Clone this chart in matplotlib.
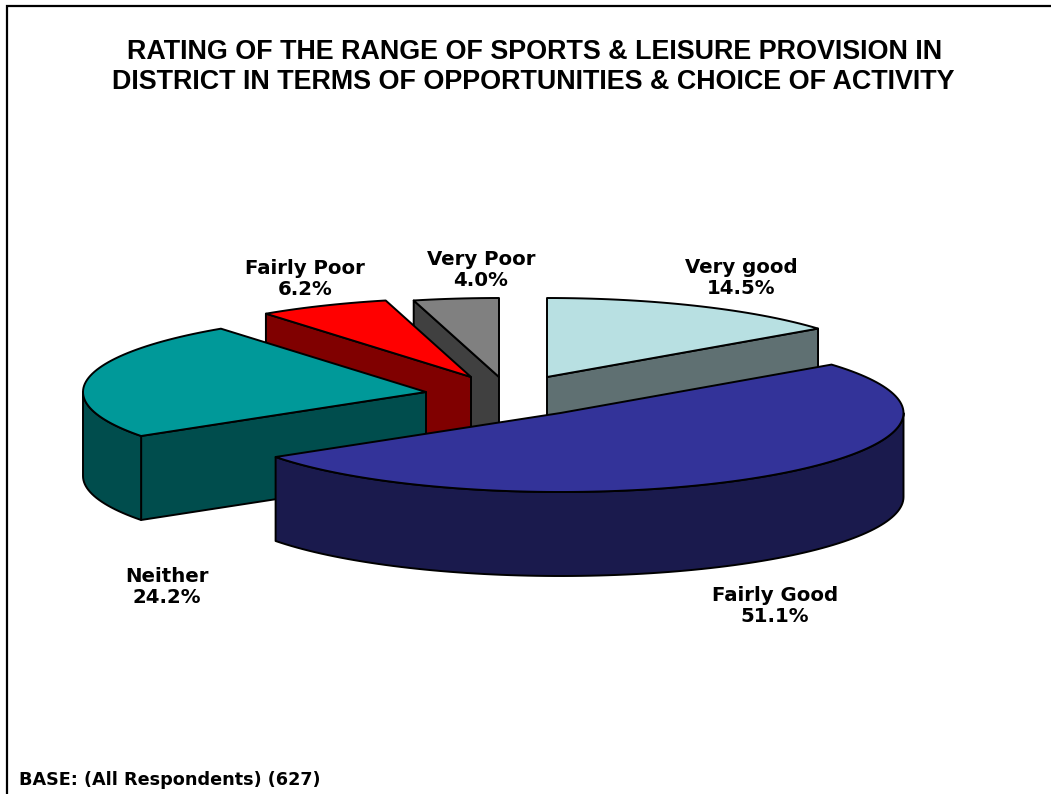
import numpy as np
import matplotlib
matplotlib.use("Agg")
import matplotlib.pyplot as plt
from matplotlib.patches import Polygon

# Data
categories = ["Very good", "Fairly Good", "Neither", "Fairly Poor", "Very Poor"]
values = [14.5, 51.1, 24.2, 6.2, 4.0]
title_lines = ["RATING OF THE RANGE OF SPORTS & LEISURE PROVISION IN",
               "DISTRICT IN TERMS OF OPPORTUNITIES & CHOICE OF ACTIVITY"]
base_note = "BASE: (All Respondents) (627)"

# Style / layout (pixel canvas, y downward)
W, H = 1051, 794
RX, RY, DEPTH = 343, 79, 84
apexes = [(547, 377), (560.5, 413), (426, 392), (471, 377), (499, 377)]
top_colors = ["#B8E0E2", "#333399", "#009999", "#FF0000", "#808080"]
side_colors = ["#5F7072", "#1A1A4D", "#004D4D", "#800000", "#404040"]
label_pos = [(741, 278), (775, 606), (167, 587), (305, 279), (481, 270)]
draw_order = [4, 3, 2, 0, 1]

fig = plt.figure(figsize=(W / 100, H / 100), dpi=100, facecolor="white")
ax = fig.add_axes([0, 0, 1, 1])
ax.set_xlim(0, W)
ax.set_ylim(H, 0)
ax.axis("off")

ax.plot([6.5, 6.5, W], [H, 5.5, 5.5], color="black", lw=1.6, solid_joinstyle="miter", zorder=1)


def rim(cx, cy, a0, a1, dy=0):
    n = max(2, int(abs(a1 - a0) / 1.5) + 2)
    t = np.radians(np.linspace(a0, a1, n))
    return np.column_stack([cx + RX * np.sin(t), cy + dy - RY * np.cos(t)])


edges = np.concatenate([[0], np.cumsum(values) / np.sum(values) * 360])
z = 2
for i in draw_order:
    cx, cy = apexes[i]
    a0, a1 = edges[i], edges[i + 1]
    # Cut face turned to the viewer: end edge on the right half, start edge on the left half
    if a1 <= 180:
        edge = a1
    elif a0 >= 180:
        edge = a0
    else:
        edge = None
    if edge is not None:
        p = rim(cx, cy, edge, edge)[0]
        face = [(cx, cy), tuple(p), (p[0], p[1] + DEPTH), (cx, cy + DEPTH)]
        ax.add_patch(Polygon(face, closed=True, fc=side_colors[i], ec="black", lw=1.4,
                             joinstyle="round", zorder=z))
    # Outer wall where it faces the viewer
    v0, v1 = max(a0, 90), min(a1, 270)
    if v1 > v0:
        top = rim(cx, cy, v0, v1)
        bot = rim(cx, cy, v0, v1, DEPTH)
        ax.add_patch(Polygon(np.vstack([top, bot[::-1]]), closed=True, fc=side_colors[i],
                             ec="black", lw=1.4, joinstyle="round", zorder=z))
    arc = rim(cx, cy, a0, a1)
    ax.add_patch(Polygon(np.vstack([[(cx, cy)], arc]), closed=True, fc=top_colors[i],
                         ec="black", lw=1.4, joinstyle="round", zorder=z))
    z += 1

title_font = dict(family="Liberation Sans", weight="bold", color="black", zorder=20)
label_font = dict(family="DejaVu Sans", weight="bold", color="black", zorder=20)

ax.text(534.5, 52, title_lines[0], ha="center", va="center", fontsize=19.4, **title_font)
ax.text(533, 82, title_lines[1], ha="center", va="center", fontsize=19.4, **title_font)

for name, val, (x, y) in zip(categories, values, label_pos):
    ax.text(x, y, f"{name}\n{val:.1f}%", ha="center", va="center", fontsize=14.2,
            linespacing=1.16, **label_font)

ax.text(19, 780, base_note, ha="left", va="center", fontsize=12.7, **label_font)

fig.savefig("out.png", dpi=100, facecolor="white")
